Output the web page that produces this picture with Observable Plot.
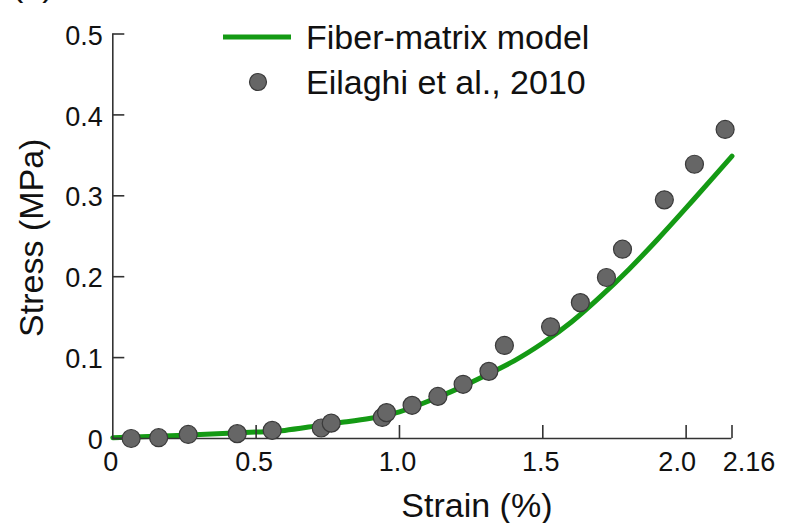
<!DOCTYPE html>
<html>
<head>
<meta charset="utf-8">
<script src="https://cdn.jsdelivr.net/npm/d3@7"></script>
<script src="https://cdn.jsdelivr.net/npm/@observablehq/plot@0.6"></script>
<style>
  html, body { margin: 0; padding: 0; background: #fff; }
  #wrap { position: relative; width: 787px; height: 523px; overflow: hidden; font-family: "Liberation Sans", Arial, sans-serif; }
  #panel { position: absolute; left: 12px; top: -33px; font-size: 34px; line-height: 34px; color: #111; }
  #legend { position: absolute; left: 0; top: 0; font-size: 34px; color: #111; }
  .lg-row { position: absolute; white-space: nowrap; }
</style>
</head>
<body>
<div id="wrap">
  <div id="chart"></div>
  <div id="panel">(b)</div>
  <div id="legend"></div>
</div>
<script>
// Model curve (Fiber-matrix model)
const modelStrain = [0, 0.25, 0.5, 0.6, 0.7, 0.8, 0.9, 1.0, 1.1, 1.2, 1.3, 1.4, 1.5, 1.6, 1.7, 1.8, 1.9, 2.0, 2.1, 2.16];
const modelStress = [0.001, 0.004, 0.008, 0.010, 0.015, 0.020, 0.025, 0.033, 0.046, 0.061, 0.078, 0.096, 0.118, 0.144, 0.175, 0.209, 0.246, 0.285, 0.325, 0.349];

// Experimental data (Eilaghi et al., 2010)
const expStrain = [0.064, 0.16, 0.263, 0.434, 0.556, 0.727, 0.762, 0.94, 0.955, 1.044, 1.134, 1.222, 1.312, 1.366, 1.527, 1.631, 1.722, 1.778, 1.924, 2.029, 2.136];
const expStress = [0.000, 0.001, 0.005, 0.006, 0.010, 0.013, 0.019, 0.026, 0.032, 0.041, 0.052, 0.067, 0.083, 0.115, 0.138, 0.168, 0.199, 0.234, 0.295, 0.339, 0.382];

// Ticks and labels
const xTicks = [0.5, 1.0, 1.5, 2.0, 2.16];
const xLabelsMain = [0, 0.5, 1.0, 1.5];
const xLabelLeftShift = [2.0];
const xLabelRightShift = [2.16];
const yTicks = [0, 0.1, 0.2, 0.3, 0.4, 0.5];
const xTitle = "Strain (%)";
const yTitle = "Stress (MPa)";
const legendNames = ["Fiber-matrix model", "Eilaghi et al., 2010"];

const modelData = modelStrain.map((x, i) => ({x, y: modelStress[i]}));
const expData = expStrain.map((x, i) => ({x, y: expStress[i]}));

const green = "#149a14";
const axisColor = "#333";
const fmtX = d => d === 0 ? "0" : (d === 2.16 ? "2.16" : d.toFixed(1));
const fmtY = d => d === 0 ? "0" : d.toFixed(1);
const font = "Liberation Sans, Arial, sans-serif";
const tickFont = 27;

const chart = Plot.plot({
  width: 787,
  height: 523,
  marginLeft: 112.3,
  marginRight: 55.5,
  marginTop: 33.5,
  marginBottom: 85,
  style: {fontFamily: font, background: "white", color: "#111"},
  x: {domain: [0, 2.16]},
  y: {domain: [0, 0.5]},
  marks: [
    Plot.line(modelData, {x: "x", y: "y", stroke: green, strokeWidth: 5, curve: "natural"}),
    Plot.ruleX([0], {stroke: axisColor, strokeWidth: 1.6}),
    Plot.ruleY([0], {stroke: axisColor, strokeWidth: 1.6}),
    Plot.axisX(xTicks, {tickSize: -13, stroke: axisColor, strokeWidth: 1.6, text: null, label: null}),
    Plot.axisY(yTicks, {tickSize: -12, stroke: axisColor, strokeWidth: 1.6, text: null, label: null}),
    Plot.text(yTicks, {y: d => d, frameAnchor: "left", text: fmtY, textAnchor: "end", dx: -10, dy: 2, fontSize: tickFont, fill: "#111"}),
    Plot.text(xLabelsMain, {x: d => d, frameAnchor: "bottom", text: fmtX, lineAnchor: "top", dy: 13, dx: -2, fontSize: tickFont, fill: "#111"}),
    Plot.text(xLabelLeftShift, {x: d => d, frameAnchor: "bottom", text: fmtX, lineAnchor: "top", dy: 13, dx: -9, fontSize: tickFont, fill: "#111"}),
    Plot.text(xLabelRightShift, {x: d => d, frameAnchor: "bottom", text: fmtX, lineAnchor: "top", dy: 13, dx: 17, fontSize: tickFont, fill: "#111"}),
    Plot.dot(expData, {x: "x", y: "y", r: 9, fill: "#666", stroke: "#3a3a3a", strokeWidth: 1.2}),
    Plot.text([xTitle], {frameAnchor: "bottom", text: d => d, textAnchor: "middle", lineAnchor: "bottom", dy: 78.5, dx: 54.5, fontSize: 34, fill: "#111"}),
    Plot.text([yTitle], {frameAnchor: "left", text: d => d, rotate: -90, textAnchor: "middle", lineAnchor: "top", dx: -94, dy: 1.5, fontSize: 34, fill: "#111"})
  ]
});
document.getElementById("chart").appendChild(chart);

// Legend
const legend = document.getElementById("legend");
legend.innerHTML = `
  <div class="lg-row" style="left:222px; top:18px; height:38px; line-height:38px;">
    <svg width="70" height="38" style="vertical-align:top"><line x1="1" x2="69" y1="19" y2="19" stroke="${green}" stroke-width="5"/></svg>
    <span style="position:absolute; left:84px; top:0;">${legendNames[0]}</span>
  </div>
  <div class="lg-row" style="left:222px; top:63px; height:38px; line-height:38px;">
    <svg width="70" height="38" style="vertical-align:top"><circle cx="36" cy="19" r="8.5" fill="#666" stroke="#3a3a3a" stroke-width="1.2"/></svg>
    <span style="position:absolute; left:84px; top:0;">${legendNames[1]}</span>
  </div>`;
</script>
</body>
</html>
